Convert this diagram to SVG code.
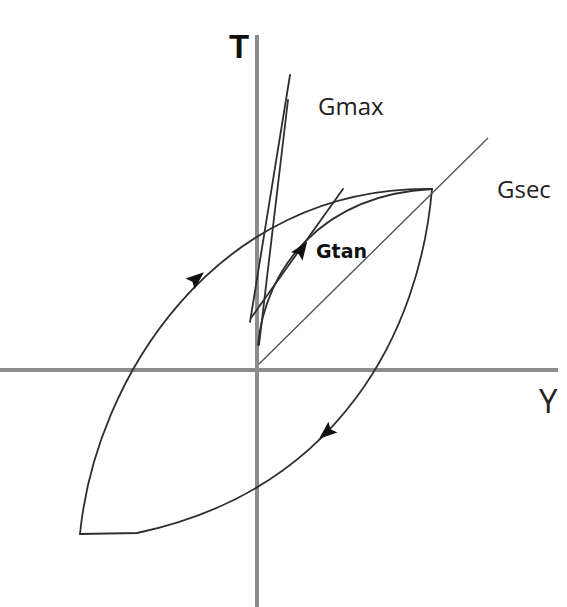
<svg xmlns="http://www.w3.org/2000/svg" width="567" height="607" viewBox="0 0 567 607">
<style>
.axis{stroke:#8c8c8c;stroke-width:4;fill:none}
.curve{stroke:#2e2e2e;stroke-width:1.8;fill:none;stroke-linecap:round}
.thin{stroke:#555;stroke-width:1.4;fill:none}
.arrow{fill:#111}
.lbl{font-family:"Open Sans","DejaVu Sans",sans-serif;fill:#222}
</style>
<defs>
<polygon id="ah" points="9,0 -9,-7 -6,0 -9,7"/>
</defs>
<rect width="567" height="607" fill="#fff"/>
<g id="axes">
<line class="axis" x1="0" y1="370" x2="558" y2="370"/>
<line class="axis" x1="257" y1="35" x2="257" y2="607"/>
</g>
<g id="connectors">
<path id="upper-arc" class="curve" d="M80,534 C95,380 215,186 432,189"/>
<path id="lower-arc" class="curve" d="M432,189 C420,330 340,490 137,533 L80,534"/>
<path id="backbone" class="curve" d="M258,345 C265,270 320,195 432,189"/>
<line id="gsec-line" class="thin" x1="259" y1="364" x2="488" y2="138"/>
<line id="gtan-line" class="curve" x1="251" y1="318" x2="343" y2="189"/>
<line id="gmax-line1" class="curve" x1="250" y1="322" x2="290" y2="75"/>
<line id="gmax-line2" class="curve" x1="259" y1="345" x2="288" y2="100"/>
<use href="#ah" class="arrow" transform="translate(197,278) rotate(-40)"/>
<use href="#ah" class="arrow" transform="translate(326,433) rotate(140)"/>
<use href="#ah" class="arrow" transform="translate(302,249) rotate(-55)"/>
</g>
<g id="label-T"><text x="229" y="58" font-family="Liberation Sans, Arial, sans-serif" font-weight="bold" font-size="33" fill="#111">T</text></g>
<g id="label-Y"><text class="lbl" x="539" y="413" font-size="33">Y</text></g>
<g id="label-Gmax"><text class="lbl" x="318" y="115" font-size="24">Gmax</text></g>
<g id="label-Gsec"><text class="lbl" x="497" y="198" font-size="24">Gsec</text></g>
<g id="label-Gtan"><text x="316" y="258" font-family="DejaVu Sans, sans-serif" font-weight="bold" font-size="19" fill="#111">Gtan</text></g>
</svg>
